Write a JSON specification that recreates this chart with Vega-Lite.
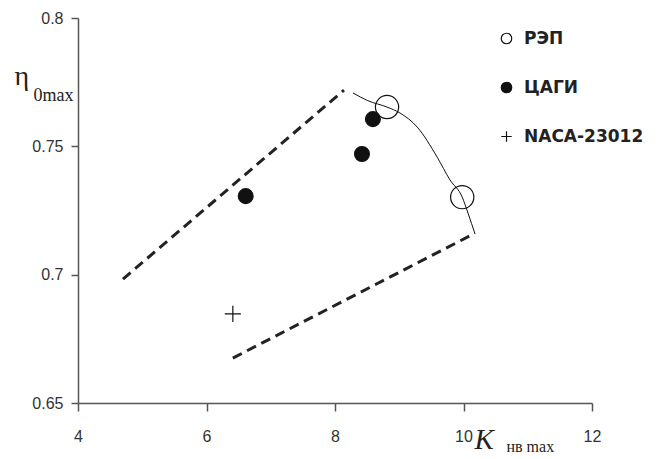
{
  "$schema": "https://vega.github.io/schema/vega-lite/v6.json",
  "width": 514,
  "height": 385,
  "autosize": {"type": "none"},
  "padding": {"left": 78, "top": 18, "right": 73, "bottom": 56},
  "background": "white",
  "config": {
    "view": {"stroke": null},
    "axis": {"grid": false, "labelFlush": false, "labelOverlap": false},
    "legend": {
      "orient": "none", "legendX": 420, "legendY": 12, "title": null, "padding": 0,
      "labelFont": "DejaVu Sans", "labelFontSize": 17, "labelFontWeight": "bold", "labelColor": "#222",
      "rowPadding": 31, "labelOffset": 9,
      "symbolStrokeColor": "#111", "symbolStrokeWidth": 1.2, "symbolSize": 110, "symbolOpacity": 1
    }
  },
  "datasets": {
    "bounds": [
      {"segment": "upper", "K": 4.70, "eta": 0.6983},
      {"segment": "upper", "K": 8.14, "eta": 0.7719},
      {"segment": "lower", "K": 6.41, "eta": 0.6675},
      {"segment": "lower", "K": 10.12, "eta": 0.7154}
    ],
    "curve": [
      {"K": 8.28, "eta": 0.7708},
      {"K": 8.51, "eta": 0.7678},
      {"K": 8.81, "eta": 0.7653},
      {"K": 9.01, "eta": 0.7630},
      {"K": 9.28, "eta": 0.7575},
      {"K": 9.59, "eta": 0.7458},
      {"K": 9.79, "eta": 0.7369},
      {"K": 9.98, "eta": 0.7302},
      {"K": 10.07, "eta": 0.7240},
      {"K": 10.18, "eta": 0.7158}
    ],
    "points": [
      {"type": "РЭП", "K": 8.81, "eta": 0.7653},
      {"type": "РЭП", "K": 9.98, "eta": 0.7302},
      {"type": "ЦАГИ", "K": 6.61, "eta": 0.7306},
      {"type": "ЦАГИ", "K": 8.42, "eta": 0.7470},
      {"type": "ЦАГИ", "K": 8.59, "eta": 0.7606},
      {"type": "NACA-23012", "K": 6.41, "eta": 0.6847}
    ]
  },
  "resolve": {"axis": {"x": "independent", "y": "independent"}},
  "layer": [
    {
      "data": {"name": "bounds"},
      "mark": {"type": "line", "strokeDash": [10, 6], "strokeWidth": 3, "color": "#222", "strokeCap": "butt"},
      "encoding": {
        "x": {
          "field": "K", "type": "quantitative",
          "scale": {"domain": [4, 12], "nice": false, "zero": false},
          "axis": {
            "values": [4, 6, 8, 10, 12],
            "title": "K",
            "titleFont": "Liberation Serif", "titleFontStyle": "italic", "titleFontWeight": "normal",
            "titleFontSize": 29, "titleColor": "#222",
            "titleX": 396, "titleY": 45, "titleAlign": "left", "titleBaseline": "alphabetic",
            "labelFont": "Liberation Sans", "labelFontSize": 16, "labelColor": "#333", "labelPadding": 17,
            "tickSize": 8, "tickColor": "#555", "tickWidth": 1.5,
            "domainColor": "#555", "domainWidth": 1.5
          }
        },
        "y": {
          "field": "eta", "type": "quantitative",
          "scale": {"domain": [0.65, 0.8], "nice": false, "zero": false},
          "axis": {
            "values": [0.65, 0.7, 0.75, 0.8],
            "format": "~g",
            "title": "η",
            "titleFont": "Liberation Serif", "titleFontWeight": "normal", "titleFontSize": 28, "titleColor": "#222",
            "titleAngle": 0, "titleX": -64, "titleY": 66, "titleAlign": "left", "titleBaseline": "alphabetic",
            "labelFont": "Liberation Sans", "labelFontSize": 16, "labelColor": "#333", "labelPadding": 8,
            "tickSize": 7, "tickColor": "#555", "tickWidth": 1.5,
            "domainColor": "#555", "domainWidth": 1.5
          }
        },
        "detail": {"field": "segment"}
      }
    },
    {
      "data": {"name": "curve"},
      "mark": {"type": "line", "interpolate": "monotone", "color": "#111", "strokeWidth": 1},
      "encoding": {
        "x": {
          "field": "K", "type": "quantitative",
          "scale": {"domain": [4, 12], "nice": false, "zero": false},
          "axis": {
            "orient": "bottom", "domain": false, "ticks": false, "labels": false,
            "title": "нв max",
            "titleFont": "Liberation Serif", "titleFontWeight": "normal", "titleFontSize": 16, "titleColor": "#222",
            "titleX": 428, "titleY": 48, "titleAlign": "left", "titleBaseline": "alphabetic"
          }
        },
        "y": {
          "field": "eta", "type": "quantitative",
          "scale": {"domain": [0.65, 0.8], "nice": false, "zero": false},
          "axis": {
            "orient": "left", "domain": false, "ticks": false, "labels": false,
            "title": "0max",
            "titleFont": "Liberation Serif", "titleFontWeight": "normal", "titleFontSize": 18, "titleColor": "#222",
            "titleAngle": 0, "titleX": -45, "titleY": 82, "titleAlign": "left", "titleBaseline": "alphabetic"
          }
        }
      }
    },
    {
      "data": {"name": "points"},
      "transform": [{"filter": "datum.type === 'РЭП'"}],
      "mark": {"type": "point", "filled": true, "strokeWidth": 1.2, "size": 540, "opacity": 1},
      "encoding": {
        "x": {"field": "K", "type": "quantitative", "scale": {"domain": [4, 12], "nice": false, "zero": false}, "axis": null},
        "y": {"field": "eta", "type": "quantitative", "scale": {"domain": [0.65, 0.8], "nice": false, "zero": false}, "axis": null},
        "shape": {
          "field": "type", "type": "nominal",
          "scale": {"domain": ["РЭП", "ЦАГИ", "NACA-23012"], "range": ["circle", "circle", "M-1,0L1,0M0,-1L0,1"]}
        },
        "fill": {
          "field": "type", "type": "nominal",
          "scale": {"domain": ["РЭП", "ЦАГИ", "NACA-23012"], "range": ["transparent", "#111", "#111"]}
        },
        "stroke": {
          "field": "type", "type": "nominal",
          "scale": {"domain": ["РЭП", "ЦАГИ", "NACA-23012"], "range": ["#111", "#111", "#111"]}
        }
      }
    },
    {
      "data": {"name": "points"},
      "transform": [{"filter": "datum.type === 'ЦАГИ'"}],
      "mark": {"type": "point", "filled": true, "strokeWidth": 1.2, "size": 220, "opacity": 1},
      "encoding": {
        "x": {"field": "K", "type": "quantitative", "scale": {"domain": [4, 12], "nice": false, "zero": false}, "axis": null},
        "y": {"field": "eta", "type": "quantitative", "scale": {"domain": [0.65, 0.8], "nice": false, "zero": false}, "axis": null},
        "shape": {"field": "type", "type": "nominal"},
        "fill": {"field": "type", "type": "nominal"},
        "stroke": {"field": "type", "type": "nominal"}
      }
    },
    {
      "data": {"name": "points"},
      "transform": [{"filter": "datum.type === 'NACA-23012'"}],
      "mark": {"type": "point", "filled": true, "strokeWidth": 1.2, "size": 260, "opacity": 1},
      "encoding": {
        "x": {"field": "K", "type": "quantitative", "scale": {"domain": [4, 12], "nice": false, "zero": false}, "axis": null},
        "y": {"field": "eta", "type": "quantitative", "scale": {"domain": [0.65, 0.8], "nice": false, "zero": false}, "axis": null},
        "shape": {"field": "type", "type": "nominal"},
        "fill": {"field": "type", "type": "nominal"},
        "stroke": {"field": "type", "type": "nominal"}
      }
    }
  ]
}
